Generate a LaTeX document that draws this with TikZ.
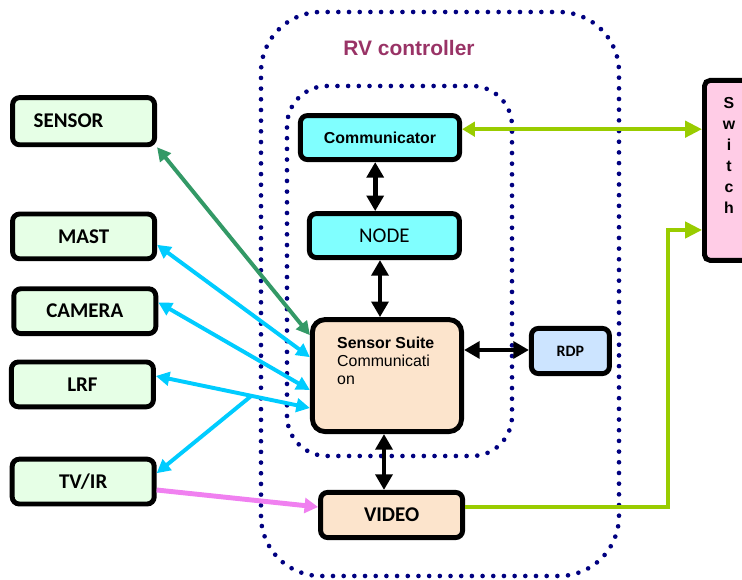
\documentclass[tikz,border=0pt]{standalone}
\usepackage{fontspec}
\setmainfont{Liberation Sans}
\newfontfamily\calibri{Carlito}
\usetikzlibrary{arrows.meta}
\usetikzlibrary{calc}

\definecolor{dotnavy}{RGB}{0,0,128}
\definecolor{devgreen}{RGB}{230,255,230}
\definecolor{commcyan}{RGB}{128,255,255}
\definecolor{suitepeach}{RGB}{252,228,204}
\definecolor{rdpblue}{RGB}{204,228,255}
\definecolor{switchpink}{RGB}{255,204,230}
\definecolor{linkgreen}{RGB}{51,153,102}
\definecolor{linkcyan}{RGB}{0,204,255}
\definecolor{linklime}{RGB}{153,204,0}
\definecolor{linkpink}{RGB}{240,128,240}
\definecolor{titlered}{RGB}{153,51,102}

\begin{document}
\begin{tikzpicture}[
    unitbox/.style={draw=black, line width=3.5pt, rounded corners=5pt, inner sep=0pt,
      minimum width=3.55cm, minimum height=1.12cm,
      font=\calibri\bfseries\fontsize{14.9}{17}\selectfont},
    devbox/.style={unitbox, fill=devgreen},
    dotline/.style={dotnavy, line width=3.3pt, line cap=round, dash pattern=on 0pt off 7.6pt},
    buslink/.style={line width=3.5pt, arrows={Triangle[length=3.9mm,width=4.2mm]-Triangle[length=3.9mm,width=4.2mm]}},
    devlink/.style={line width=2.8pt, arrows={Triangle[length=3.4mm,width=3.4mm]-Triangle[length=3.4mm,width=3.4mm]}},
    limelink/.style={linklime, line width=2.8pt}
  ]
          \useasboundingbox (0,0) rectangle (18.55,14.5);

          \draw [dotline, rounded corners=1.5cm] (6.525,0.1) rectangle (15.475,14.2); % outer controller frame
          \draw [dotline, rounded corners=1cm] (7.175,3.1) rectangle (12.8,12.35); % inner frame

          \node [text=titlered, font=\bfseries\fontsize{14.9}{17}\selectfont] (rvtitle) at (10.225,13.3) {RV controller};

          \node [devbox, minimum height=1.18cm] (sensor) at (2.09,11.47) {SENSOR\hspace*{0.75cm}};
          \node [devbox] (mast) at (2.09,8.59) {MAST};
          \node [devbox] (camera) at (2.12,6.72) {CAMERA};
          \node [devbox] (lrf) at (2.06,4.89) {LRF};
          \node [devbox] (tvir) at (2.08,2.46) {TV/IR};

          \node [unitbox, fill=commcyan, minimum width=3.98cm, minimum height=1.1cm, font=\bfseries\fontsize{11.3}{13}\selectfont] (comm) at (9.5,11.06) {Communicator};
          \node [unitbox, fill=commcyan, minimum width=3.75cm, minimum height=1.1cm, font=\calibri\fontsize{14.9}{17}\selectfont] (nodebox) at (9.61,8.61) {NODE};
          \node [unitbox, fill=suitepeach, minimum width=3.73cm, minimum height=2.8cm, rounded corners=9pt] (suite) at (9.675,5.11) {};
          \node [anchor=north west, inner sep=0pt, align=left, font=\fontsize{11.3}{12.8}\selectfont] (suitetext) at ($(suite.north west)+(0.675,-0.48)$) {\textbf{Sensor Suite}\\Communicati\\on};
          \node [unitbox, fill=rdpblue, minimum width=1.95cm, minimum height=1.13cm, font=\calibri\bfseries\fontsize{11.3}{13}\selectfont] (rdp) at (14.26,5.725) {RDP};
          \node [unitbox, fill=suitepeach, minimum height=1.13cm] (video) at (9.79,1.625) {VIDEO};

          \node [unitbox, fill=switchpink, minimum width=1.225cm, minimum height=4.5cm, rounded corners=4pt] (switch) at (18.225,10.24) {};
          \node [anchor=north, inner sep=0pt, align=center, font=\bfseries\fontsize{11.3}{15}\selectfont] (switchtext) at ($(switch.north)+(0,-0.47)$) {S\\w\\i\\t\\c\\h};

          \draw [buslink] ([xshift=-0.12cm]comm.south) -- ([xshift=-0.12cm]comm.south |- nodebox.north);
          \draw [buslink] ([xshift=-0.11cm]nodebox.south) -- ([xshift=-0.11cm]nodebox.south |- suite.north);
          \draw [buslink] ([xshift=-0.075cm]suite.south) -- ([xshift=-0.075cm]suite.south |- video.north);
          \draw [buslink] ([yshift=0.64cm]suite.east) -- ([yshift=0.64cm]suite.east -| rdp.west);

          \draw [devlink, linkgreen] (sensor.south east) -- ([yshift=1.01cm]suite.west);
          \draw [devlink, linkcyan] ([yshift=-0.21cm]mast.east) -- ([yshift=0.46cm]suite.west);
          \draw [devlink, linkcyan] ([yshift=0.22cm]camera.east) -- ([yshift=-0.36cm]suite.west);
          \draw [devlink, linkcyan] ([yshift=0.21cm]lrf.east) -- ([yshift=-0.81cm]suite.west);
          \coordinate (tvjoin) at ($([yshift=0.21cm]lrf.east)!0.62!([yshift=-0.81cm]suite.west)$);
          \draw [linkcyan, line width=2.8pt, arrows=-{Triangle[length=3.4mm,width=3.4mm]}] (tvjoin) -- ([yshift=0.21cm]tvir.east);
          \draw [linkpink, line width=3.5pt, arrows=-{Triangle[length=3.4mm,width=3.7mm]}] ([yshift=-0.21cm]tvir.east) -- ([yshift=0.2cm]video.west);

          \draw [limelink, arrows={Triangle[length=3.2mm,width=3.6mm]-Triangle[length=4.2mm,width=4mm]}] ([yshift=0.21cm]comm.east) -- ([yshift=0.21cm]comm.east -| switch.west);
          \draw [limelink, arrows=-{Triangle[length=4.2mm,width=4mm]}] ([yshift=0.2cm]video.east) -- ++(5.08,0) |- ([yshift=-1.49cm]switch.west);
        \end{tikzpicture}
\end{document}
